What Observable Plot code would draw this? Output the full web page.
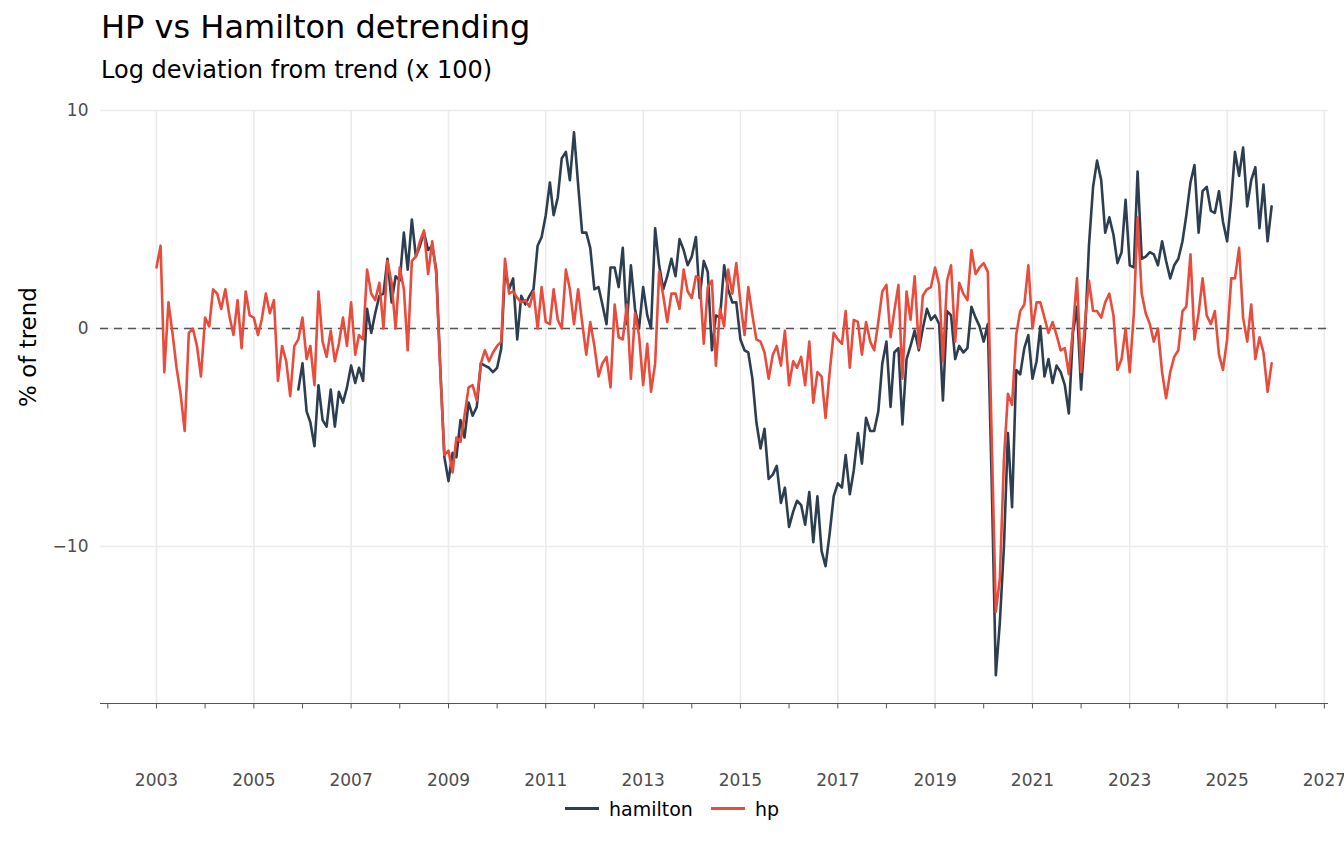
<!DOCTYPE html>
<html><head><meta charset="utf-8">
<script src="https://cdn.jsdelivr.net/npm/d3@7"></script>
<script src="https://cdn.jsdelivr.net/npm/@observablehq/plot@0.6"></script>
<style>
body{margin:0;background:#fff;font-family:"DejaVu Sans",sans-serif;width:1344px;height:864px;overflow:hidden}
#t{position:absolute;left:101px;top:8px;font-size:32px;color:#000}
#s{position:absolute;left:101px;top:56px;font-size:24px;color:#000}
#c{position:absolute;left:0;top:95px}
#lg{position:absolute;top:798px;left:0;width:1344px;text-align:center;font-size:19px;color:#000}
.sw{display:inline-block;width:34px;height:3px;vertical-align:middle;margin:0 10px 4px 0}
</style></head><body>
<div id="t">HP vs Hamilton detrending</div>
<div id="s">Log deviation from trend (x 100)</div>
<div id="c"></div>
<div id="lg"><span class="sw" style="background:#2c3e50"></span>hamilton<span style="display:inline-block;width:18px"></span><span class="sw" style="background:#e74c3c"></span>hp</div>
<script>
const hpStart = [2003, 1];
const hpValues = [
2.8,3.8,-2.0,1.2,-0.2,-1.8,-3.0,-4.7,-0.2,0.0,-0.8,-2.2,
0.5,0.1,1.8,1.6,0.9,1.8,0.6,-0.3,1.3,-0.9,1.7,0.6,
0.5,-0.3,0.4,1.6,0.7,1.3,-2.4,-0.8,-1.5,-3.1,-0.8,-0.5,
0.5,-1.4,-0.8,-2.6,1.7,-0.6,-1.3,-0.1,-1.5,-0.7,0.5,-0.8,
1.2,-1.2,-0.3,-0.5,2.7,1.6,1.3,2.1,0.0,3.1,2.1,0.0,
2.8,1.8,-1.0,3.1,3.3,4.0,4.5,2.5,4.0,2.5,-2.0,-5.8,
-5.6,-6.6,-5.0,-5.2,-4.0,-2.7,-2.6,-3.3,-1.6,-1.0,-1.5,-1.1,
-0.8,-0.6,3.2,1.6,1.7,1.4,1.2,1.3,1.0,1.7,0.0,1.9,
0.3,0.2,1.8,0.4,0.0,2.7,1.8,0.2,1.8,0.3,-1.2,0.3,
-0.8,-2.2,-1.6,-1.3,-2.7,1.1,-0.4,-0.5,1.1,-2.3,0.7,-0.3,
-2.6,-0.7,-2.9,-1.6,2.6,1.5,0.3,1.6,1.6,0.9,2.7,1.7,
1.4,2.4,2.3,-0.7,1.9,2.2,-1.7,0.9,0.1,2.7,1.6,3.0,
1.2,-0.3,1.9,0.6,-0.5,-0.6,-1.1,-2.3,-1.2,-0.8,-1.7,-0.1,
-2.6,-1.5,-1.8,-1.3,-2.6,-0.6,-3.4,-2.0,-2.2,-4.1,-2.0,-0.2,
-0.5,-0.7,0.8,-1.8,0.4,0.3,-1.2,0.3,-0.6,-1.0,0.3,1.7,
2.0,-0.4,0.8,2.0,-2.3,1.7,0.4,2.4,-0.9,1.5,1.8,1.9,
2.8,2.0,-1.5,2.2,2.9,-0.6,2.1,1.6,1.3,3.6,2.5,2.8,
3.0,2.6,-5.0,-13.0,-11.5,-6.0,-3.0,-3.5,-0.3,0.8,1.1,2.9,
0.0,1.2,1.2,0.5,-0.2,0.3,-0.3,-1.0,-0.9,-2.1,0.0,2.3,
-2.0,0.4,2.2,0.8,0.8,0.5,1.2,1.6,0.6,-1.9,-1.4,0.0,
-2.0,0.7,5.1,1.6,0.7,0.2,-0.6,0.0,-2.0,-3.2,-2.0,-1.3,
-1.0,0.8,1.0,3.4,-0.5,0.7,2.3,0.6,0.2,0.8,-1.2,-1.9,
-0.5,2.3,2.3,3.7,0.5,-0.6,1.1,-1.4,-0.4,-1.1,-2.9,-1.6];
const hamStart = [2005, 12];
const hamValues = [
-2.8,
-1.6,-3.8,-4.3,-5.4,-2.6,-4.2,-4.5,-2.8,-4.5,-2.9,-3.4,-2.7,
-1.7,-2.5,-1.8,-2.4,0.9,-0.2,0.7,1.5,1.6,3.2,1.2,2.4,
2.2,4.4,2.7,5.0,3.3,3.8,4.4,3.6,3.8,2.7,-1.9,-5.9,
-7.0,-5.7,-5.9,-4.2,-5.0,-3.4,-4.0,-3.6,-1.6,-1.7,-1.8,-2.0,
-1.8,-0.9,2.7,1.8,2.3,-0.5,1.5,1.1,1.5,1.8,3.8,4.2,
5.2,6.7,5.2,6.0,7.8,8.1,6.8,9.0,6.6,4.4,4.4,3.7,
1.8,1.9,1.1,0.2,2.8,2.8,1.9,3.7,0.2,2.9,0.9,0.0,
1.9,0.6,0.0,4.6,2.9,1.8,2.4,3.2,2.4,4.1,3.6,2.9,
3.3,4.2,1.4,3.1,2.6,-1.0,0.6,0.5,2.9,1.8,1.2,1.2,
-0.5,-1.0,-1.1,-2.3,-4.3,-5.5,-4.6,-6.9,-6.7,-6.3,-8.0,-7.3,
-9.1,-8.4,-7.9,-8.1,-9.0,-7.5,-9.8,-7.7,-10.2,-10.9,-9.4,-7.7,
-7.1,-7.3,-5.8,-7.6,-6.5,-4.8,-6.2,-4.1,-4.7,-4.7,-3.8,-1.6,
-0.6,-3.6,-1.1,-0.9,-4.4,-1.4,-0.8,-0.1,-1.0,0.0,0.9,0.4,
0.6,0.2,-3.3,0.8,0.6,-1.4,-0.8,-1.1,-0.9,1.0,0.5,0.1,
-0.6,0.2,-7.0,-15.9,-13.5,-10.0,-4.8,-8.2,-1.9,-2.1,-0.9,-0.3,
-2.3,-1.5,0.1,-2.2,-1.4,-2.5,-1.7,-2.0,-2.6,-3.9,-0.2,1.0,
-2.8,0.0,3.8,6.5,7.7,6.8,4.4,5.1,4.3,3.0,3.5,5.9,
2.9,2.8,7.2,3.2,3.3,3.5,3.4,2.9,4.0,3.1,2.3,2.9,
3.2,4.0,5.2,6.7,7.5,4.4,6.3,6.5,5.4,5.3,6.3,4.9,
4.0,5.9,8.1,7.0,8.3,5.6,6.8,7.4,4.6,6.6,4.0,5.6];
const xTickYears = d3.range(2003, 2028, 2);
const yTicks = [-10, 0, 10];

const mk = (start, vals, s) => vals.map((v, i) => ({date: new Date(Date.UTC(start[0], start[1] - 1 + i, 1)), value: v, series: s}));
const rows = [...mk(hamStart, hamValues, "hamilton"), ...mk(hpStart, hpValues, "hp")];
const tickDates = xTickYears.map(y => new Date(Date.UTC(y, 0, 1)));
const yearDates = d3.range(2002, 2028).map(y => new Date(Date.UTC(y, 0, 1)));
const yMin = -17.2;

const plot = Plot.plot({
  width: 1344, height: 700,
  marginLeft: 100, marginRight: 16, marginTop: 15, marginBottom: 92,
  style: {fontFamily: "DejaVu Sans, sans-serif", fontSize: "17px", color: "#4d4d4d", background: "#fff", overflow: "visible"},
  x: {type: "utc", domain: [new Date(Date.UTC(2001, 10, 7)), new Date(Date.UTC(2027, 1, 1))], label: null},
  y: {domain: [yMin, 10], label: null},
  color: {domain: ["hamilton", "hp"], range: ["#2c3e50", "#e74c3c"]},
  marks: [
    Plot.ruleX(tickDates, {x: d => d, y1: yMin, y2: 10, stroke: "#ebebeb", strokeWidth: 1.6}),
    Plot.ruleY(yTicks, {y: d => d, stroke: "#ebebeb", strokeWidth: 1.6}),
    Plot.ruleY([0], {y: d => d, stroke: "#555", strokeDasharray: "8,6", strokeWidth: 1.6}),
    Plot.line(rows, {x: "date", y: "value", z: "series", stroke: "series", strokeWidth: 2.6}),
    Plot.ruleY([yMin], {y: d => d, stroke: "#555", strokeWidth: 1.2}),
    Plot.ruleX(yearDates, {x: d => d, y: yMin, dy: 0, insetTop: 0, stroke: "#555", strokeWidth: 1, y1: yMin, y2: yMin - 0.25}),
    Plot.axisX({ticks: tickDates, tickFormat: d3.utcFormat("%Y"), tickSize: 0, tickPadding: 70, fill: "#4d4d4d", fontSize: 17, label: null}),
    Plot.axisY({ticks: yTicks, tickSize: 0, tickPadding: 12, fill: "#4d4d4d", fontSize: 17, label: null}),
    Plot.text(["% of trend"], {frameAnchor: "left", dx: -72, rotate: -90, fontSize: 23, fill: "#000"})
  ]
});
document.getElementById("c").appendChild(plot);
</script></body></html>
